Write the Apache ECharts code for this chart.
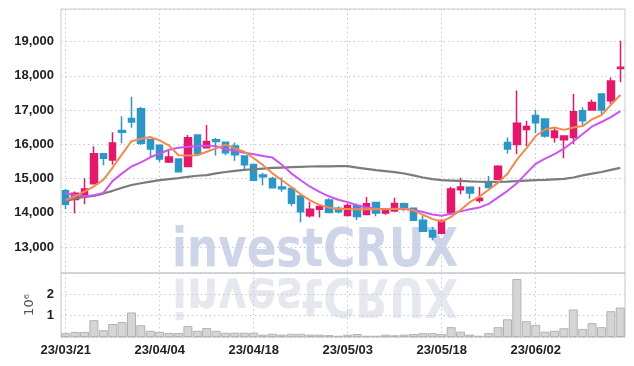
<!DOCTYPE html>
<html>
<head>
<meta charset="utf-8">
<script src="https://cdn.jsdelivr.net/npm/echarts@6/dist/echarts.min.js"></script>
<style>html,body{margin:0;padding:0;background:#fff;}#main{width:634px;height:366px;}</style>
</head>
<body>
<div id="main"></div>
<script>
const dates = ['23/03/21','23/03/22','23/03/23','23/03/24','23/03/27','23/03/28','23/03/29','23/03/30','23/03/31','23/04/03',
'23/04/04','23/04/05','23/04/06','23/04/07','23/04/10','23/04/11','23/04/12','23/04/13','23/04/14','23/04/17',
'23/04/18','23/04/19','23/04/20','23/04/21','23/04/24','23/04/25','23/04/26','23/04/27','23/04/28','23/05/02',
'23/05/03','23/05/04','23/05/08','23/05/09','23/05/10','23/05/11','23/05/12','23/05/15','23/05/16','23/05/17',
'23/05/18','23/05/19','23/05/22','23/05/23','23/05/24','23/05/25','23/05/26','23/05/30','23/05/31','23/06/01',
'23/06/02','23/06/05','23/06/07','23/06/08','23/06/09','23/06/12','23/06/13','23/06/14','23/06/15','23/06/16'];

const openP = [14640,14390,14470,14850,15720,15540,16400,16750,17040,16140,
15970,15480,15570,15350,16270,15900,16130,16060,15950,15660,
15410,15100,15000,14750,14710,14490,13910,14100,14370,14130,
13920,14210,13950,14300,13990,14050,14265,14130,13780,13480,
13400,14000,14670,14745,14360,14870,14980,16050,15990,16430,
16840,16740,16200,16130,16200,16980,17000,17470,17270,18210];

const closeP = [14250,14570,14690,15720,15590,16040,16350,16650,16030,15860,
15570,15630,15200,16190,15720,16080,16080,15750,15690,15400,
14950,15050,14730,14700,14280,14030,14100,14180,14010,14030,
14210,13890,14260,13990,14090,14270,14140,13780,13460,13290,
13770,14690,14750,14580,14420,14740,15360,15860,16610,16520,
16630,16240,16390,16240,16950,16690,17220,17000,17850,18250];

const lowP = [14100,13980,14245,14830,15390,15400,16030,16480,15980,15620,
15490,15450,15180,15330,15700,15880,15670,15680,15520,15250,
14940,14800,14720,14610,14190,13720,13860,13860,14000,13980,
13900,13790,13940,13900,13940,14040,14050,13770,13450,13200,
13380,13940,14540,14410,14290,14710,14970,15730,15710,15950,
16320,16200,16050,15590,16000,16510,16990,16880,17180,17810];

const highP = [14690,14620,15010,15940,15730,16350,16820,17390,17090,16150,
15990,15860,15580,16270,16280,16560,16180,16070,16050,15660,
15420,15170,15050,15030,14710,14500,14320,14190,14420,14180,
14270,14270,14460,14320,14100,14440,14300,14140,13920,13580,
13800,14760,15020,14750,14750,15070,15390,16200,17570,16690,
17000,16760,16480,16260,17470,17080,17310,17480,17950,19020];

const ma5 = [14370,14480,14620,14770,14960,15320,15710,16090,16160,16210,
16110,15960,15680,15670,15680,15780,15880,15990,15880,15780,
15590,15390,15150,14950,14750,14540,14360,14230,14150,14110,
14110,14100,14100,14110,14100,14120,14120,14070,13940,13820,
13740,13880,14080,14310,14470,14670,14880,15140,15550,15880,
16240,16430,16490,16420,16490,16530,16730,16850,17150,17440];

const ma20 = [14570,14520,14480,14510,14580,14930,15150,15350,15470,15620,
15730,15840,15900,15930,15940,15960,15940,15860,15810,15750,
15710,15660,15610,15400,15150,14950,14760,14610,14480,14380,
14310,14220,14150,14120,14110,14110,14110,14080,14020,13950,
13910,13970,14040,14100,14150,14260,14450,14640,14860,15150,
15430,15580,15710,15870,16080,16300,16520,16650,16790,16970];

const ma60 = [14340,14420,14460,14490,14560,14640,14730,14810,14860,14910,
14950,14980,15010,15050,15080,15100,15150,15190,15220,15250,
15270,15290,15310,15320,15330,15340,15350,15355,15355,15360,
15360,15320,15280,15245,15215,15185,15145,15090,15030,14980,
14950,14940,14930,14915,14905,14900,14900,14910,14925,14940,
14950,14960,14975,14990,15030,15090,15140,15190,15250,15310];

const volume = [180000,240000,240000,790000,320000,610000,700000,1150000,550000,290000,
240000,190000,190000,510000,290000,420000,290000,200000,200000,200000,
200000,110000,150000,110000,150000,150000,110000,110000,90000,60000,
110000,140000,60000,60000,110000,80000,110000,140000,180000,180000,
140000,460000,250000,110000,60000,180000,460000,830000,2720000,740000,
570000,250000,290000,410000,1290000,380000,650000,460000,1210000,1380000];

const candleData = dates.map((d, i) => [openP[i], closeP[i], lowP[i], highP[i]]);

const labelFont = "'Liberation Sans', Arial, sans-serif";
const gridLine = { show: true, lineStyle: { color: '#c3c7dc', width: 1, type: [1.5, 3] } };

const chart = echarts.init(document.getElementById('main'), null, { renderer: 'canvas' });
chart.setOption({
  animation: false,
  backgroundColor: '#ffffff',
  graphic: [
    {
      type: 'text', z: -10, x: 172, y: 252, scaleX: 0.81, scaleY: 1,
      style: { text: 'investCRUX', fill: '#cfd5e9', font: "bold 54px 'DejaVu Sans', sans-serif", verticalAlign: 'middle', align: 'left' }
    },
    {
      type: 'text', z: -10, x: 172, y: 293, scaleX: 0.81, scaleY: -1,
      style: { text: 'investCRUX', fill: '#e7e8ef', font: "bold 54px 'DejaVu Sans', sans-serif", verticalAlign: 'middle', align: 'left' }
    }
  ],
  grid: [
    { left: 61, right: 9, top: 9, height: 264, show: true, borderColor: '#cccccc', borderWidth: 1, backgroundColor: 'transparent' },
    { left: 61, right: 9, top: 273, height: 64, show: true, borderColor: '#c4c4c4', borderWidth: 1, backgroundColor: 'transparent' }
  ],
  xAxis: [
    {
      type: 'category', gridIndex: 0, data: dates, boundaryGap: true,
      axisLine: { show: false }, axisTick: { show: false }, axisLabel: { show: false },
      splitLine: Object.assign({ interval: 9, alignWithLabel: true }, gridLine)
    },
    {
      type: 'category', gridIndex: 1, data: dates, boundaryGap: true,
      axisLine: { show: false }, axisTick: { show: false },
      axisLabel: { interval: 9, color: '#222', fontFamily: labelFont, fontWeight: 'bold', fontSize: 13, margin: 7 },
      splitLine: Object.assign({ interval: 9, alignWithLabel: true }, gridLine)
    }
  ],
  yAxis: [
    {
      type: 'value', gridIndex: 0, min: 12240, max: 19950, splitNumber: 8,
      axisLine: { show: false }, axisTick: { show: false },
      axisLabel: { color: '#222', fontFamily: labelFont, fontWeight: 'bold', fontSize: 13, margin: 7,
        showMinLabel: false, showMaxLabel: false,
        formatter: v => (v % 1000 === 0 ? v.toLocaleString('en-US') : '') },
      splitLine: gridLine
    },
    {
      type: 'value', gridIndex: 1, min: 0, max: 3000000, interval: 1000000,
      name: '10\u2076', nameLocation: 'middle', nameGap: 16, nameRotate: 90,
      nameTextStyle: { color: '#555', fontSize: 13, fontFamily: "'DejaVu Sans', sans-serif" },
      axisLine: { show: false }, axisTick: { show: false },
      axisLabel: { color: '#222', fontFamily: labelFont, fontWeight: 'bold', fontSize: 13, margin: 7,
        showMinLabel: false, showMaxLabel: false, formatter: v => String(v / 1000000) },
      splitLine: gridLine
    }
  ],
  series: [
    {
      type: 'candlestick', xAxisIndex: 0, yAxisIndex: 0, data: candleData, barWidth: '72%',
      itemStyle: { color: '#e3186a', color0: '#2e95c7', borderColor: '#e3186a', borderColor0: '#2e95c7', borderWidth: 1.5 }
    },
    { type: 'line', xAxisIndex: 0, yAxisIndex: 0, data: ma60, symbol: 'none', smooth: false, lineStyle: { color: '#7b7b7b', width: 2.2 } },
    { type: 'line', xAxisIndex: 0, yAxisIndex: 0, data: ma20, symbol: 'none', smooth: false, lineStyle: { color: '#cc55ee', width: 2 } },
    { type: 'line', xAxisIndex: 0, yAxisIndex: 0, data: ma5, symbol: 'none', smooth: false, lineStyle: { color: '#f28a4e', width: 2 } },
    {
      type: 'bar', xAxisIndex: 1, yAxisIndex: 1, data: volume, barCategoryGap: '4%',
      itemStyle: { color: '#d5d5d5', borderColor: '#b3b3b3', borderWidth: 1 }
    }
  ]
});
</script>
</body>
</html>
